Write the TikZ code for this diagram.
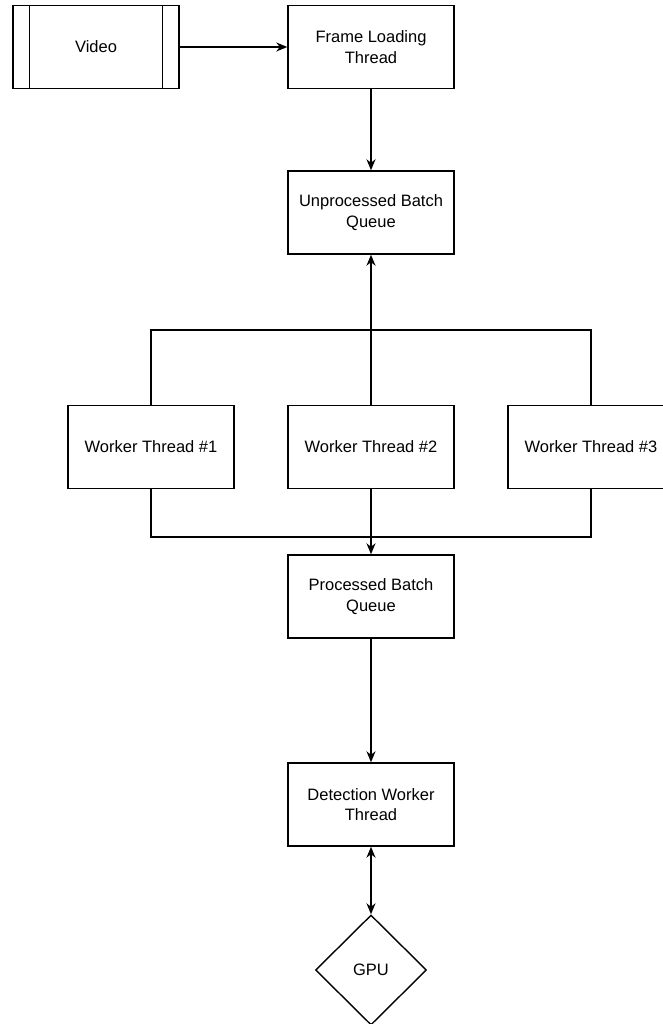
\documentclass[tikz,border=0pt]{standalone}
\usepackage{fontspec}
\setmainfont{Liberation Sans}
\usepackage{tikz}
\usetikzlibrary{arrows.meta, shapes.geometric, positioning}
\tikzset{>={Stealth[length=11pt, width=9pt, inset=3.5pt]}}
\tikzset{
  box/.style = {draw, line width=1.4pt, minimum width=166pt, minimum height=83pt,
                inner sep=0pt, align=center, font=\fontsize{16.5}{20.5}\selectfont},
  gpubox/.style = {draw, diamond, line width=1.4pt, minimum width=111pt, minimum height=110pt,
                inner sep=0pt, font=\fontsize{16.5}{20.5}\selectfont},
  link/.style = {line width=1.5pt}
}

\begin{document}
\begin{tikzpicture}[x=1pt, y=-1pt]
\useasboundingbox (0,0) rectangle (663,1024);
\node[box] (video) at (96, 47) {Video};
\draw[link] ([xshift=17pt]video.north west) -- ([xshift=17pt]video.south west);
\draw[link] ([xshift=-17pt]video.north east) -- ([xshift=-17pt]video.south east);
\node[box] (frameload) at (371, 47) {Frame Loading\\Thread};
\node[box] (unproc) at (371, 212.5) {Unprocessed Batch\\Queue};
\node[box] (worker1) at (151, 447) {Worker Thread \#1};
\node[box] (worker2) at (371, 447) {Worker Thread \#2};
\node[box] (worker3) at (591, 447) {Worker Thread \#3};
\node[box] (proc) at (371, 596.5) {Processed Batch\\Queue};
\node[box] (detect) at (371, 804.5) {Detection Worker\\Thread};
\node[gpubox] (gpu) at (371, 970) {GPU};
\coordinate (topbus) at (371, 330);
\coordinate (botbus) at (371, 537);
% connectors
\draw[link, ->] (video) -- (frameload);
\draw[link, ->] (frameload) -- (unproc);
\draw[link] (worker1.north) |- (topbus) -| (worker3.north);
\draw[link, ->] (worker2.north) -- (unproc.south);
\draw[link] (worker1.south) |- (botbus) -| (worker3.south);
\draw[link, ->] (worker2.south) -- (proc.north);
\draw[link, ->] (proc) -- (detect);
\draw[link, <->] (detect.south) -- (gpu.north);
\end{tikzpicture}
\end{document}
